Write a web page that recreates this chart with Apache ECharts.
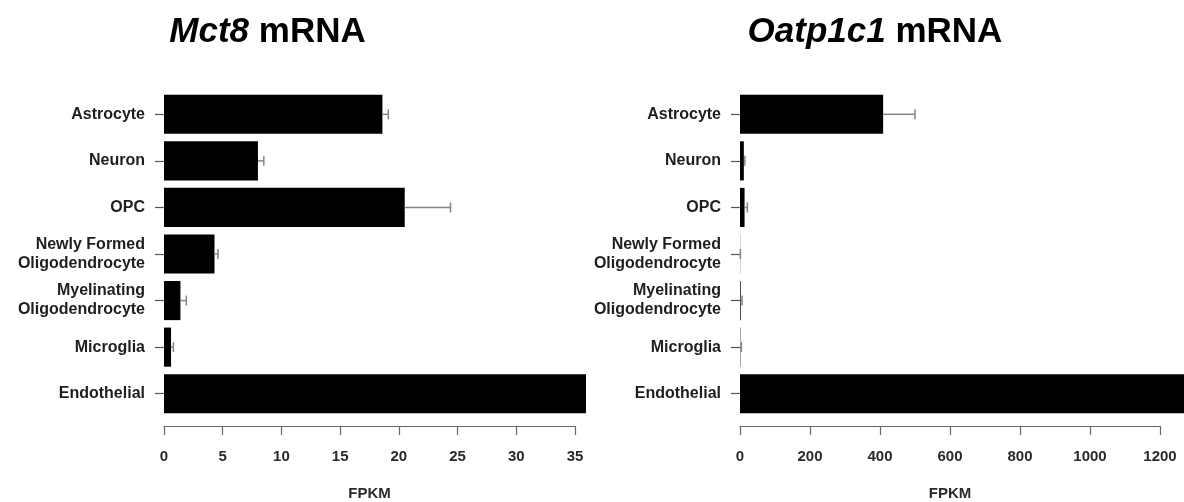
<!DOCTYPE html>
<html>
<head>
<meta charset="utf-8">
<script src="https://cdn.jsdelivr.net/npm/echarts@6/dist/echarts.min.js"></script>
<style>
html,body{margin:0;padding:0;background:#fff;}
#chart{width:1184px;height:502px;}
</style>
</head>
<body>
<div id="chart"></div>
<script>
// ---- data ----
const categories = ['Astrocyte', 'Neuron', 'OPC', 'Newly Formed\nOligodendrocyte', 'Myelinating\nOligodendrocyte', 'Microglia', 'Endothelial'];
const mct8Values = [18.6, 8.0, 20.5, 4.3, 1.4, 0.6, 36];
const mct8Errors = [0.5, 0.5, 3.9, 0.3, 0.5, 0.2, 0];
const oatpValues = [409, 11, 13, 0.5, 2, 1, 1290];
const oatpErrors = [91, 3, 8, 0.5, 4, 3, 0];
const mct8Ticks = [0, 5, 10, 15, 20, 25, 30, 35];
const oatpTicks = [0, 200, 400, 600, 800, 1000, 1200];
const titles = ['Mct8', 'Oatp1c1'];
const axisName = 'FPKM';

// ---- layout ----
const FONT = 'Liberation Sans, Arial, sans-serif';
const gridTop = 91, gridHeight = 326;
const panels = [
  {values: mct8Values, errors: mct8Errors, ticks: mct8Ticks, left: 164, barWidth: 422, axisWidth: 411, titleX: 267.5},
  {values: oatpValues, errors: oatpErrors, ticks: oatpTicks, left: 740, barWidth: 444, axisWidth: 420, titleX: 875}
];

const grids = [], xAxes = [], yAxes = [], series = [], graphics = [];
panels.forEach((p, i) => {
  const tMin = p.ticks[0], tMax = p.ticks[p.ticks.length - 1];
  const interval = p.ticks[1] - p.ticks[0];
  const barMax = tMin + (tMax - tMin) * p.barWidth / p.axisWidth;
  const gBar = grids.length;
  grids.push({left: p.left, top: gridTop, width: p.barWidth, height: gridHeight, containLabel: false, outerBoundsMode: 'none'});
  const gAx = grids.length;
  grids.push({left: p.left, top: gridTop, width: p.axisWidth, height: gridHeight, containLabel: false, outerBoundsMode: 'none'});

  const xBar = xAxes.length;
  xAxes.push({type: 'value', gridIndex: gBar, min: tMin, max: barMax, show: false});
  xAxes.push({
    type: 'value', gridIndex: gAx, min: tMin, max: tMax, interval: interval, offset: 9,
    axisLine: {show: true, lineStyle: {color: '#6a6a6a', width: 1.2}},
    axisTick: {show: true, length: 9, lineStyle: {color: '#6a6a6a', width: 1.2}},
    splitLine: {show: false},
    axisLabel: {margin: 23, fontFamily: FONT, fontSize: 15, fontWeight: 'bold', color: '#2a2a2a',
      formatter: function (v) { return String(v); }},
    name: axisName, nameLocation: 'middle', nameGap: 60,
    nameTextStyle: {fontFamily: FONT, fontSize: 15, fontWeight: 'bold', color: '#2a2a2a'}
  });
  const yBar = yAxes.length;
  yAxes.push({
    type: 'category', gridIndex: gBar, data: categories, inverse: true,
    axisLine: {show: false},
    axisTick: {show: true, alignWithLabel: true, length: 9, lineStyle: {color: '#555', width: 1.2}},
    axisLabel: {margin: 19, fontFamily: FONT, fontSize: 16, fontWeight: 'bold', color: '#1e1e1e', lineHeight: 19, align: 'right'}
  });
  yAxes.push({type: 'category', gridIndex: gAx, data: categories, inverse: true, show: false});

  series.push({
    type: 'bar', xAxisIndex: xBar, yAxisIndex: yBar, data: p.values,
    barCategoryGap: '16%', itemStyle: {color: '#000'}, silent: true
  });
  series.push({
    type: 'custom', xAxisIndex: xBar, yAxisIndex: yBar, z: 5, silent: true,
    data: p.values.map((v, k) => [v, k, p.errors[k]]),
    encode: {x: 0, y: 1},
    renderItem: function (params, api) {
      const v = api.value(0), c = api.value(1), e = api.value(2);
      if (!(e > 0)) return null;
      const p0 = api.coord([v, c]);
      const p1 = api.coord([v + e, c]);
      const style = {stroke: '#858585', lineWidth: 1.5};
      return {
        type: 'group',
        children: [
          {type: 'line', shape: {x1: p0[0], y1: p0[1], x2: p1[0], y2: p1[1]}, style: style},
          {type: 'line', shape: {x1: p1[0], y1: p1[1] - 5, x2: p1[0], y2: p1[1] + 5}, style: style}
        ]
      };
    }
  });

  graphics.push({
    type: 'text', x: p.titleX, y: 32,
    style: {
      text: '{i|' + titles[i] + '} mRNA',
      textAlign: 'center', textVerticalAlign: 'middle',
      fontFamily: FONT, fontSize: 35, fontWeight: 'bold', fill: '#000',
      rich: {i: {fontFamily: FONT, fontSize: 35, fontWeight: 'bold', fontStyle: 'italic', fill: '#000'}}
    }
  });
});

const chart = echarts.init(document.getElementById('chart'), null, {renderer: 'canvas'});
chart.setOption({
  animation: false,
  backgroundColor: '#fff',
  grid: grids,
  xAxis: xAxes,
  yAxis: yAxes,
  series: series,
  graphic: graphics
});
</script>
</body>
</html>
